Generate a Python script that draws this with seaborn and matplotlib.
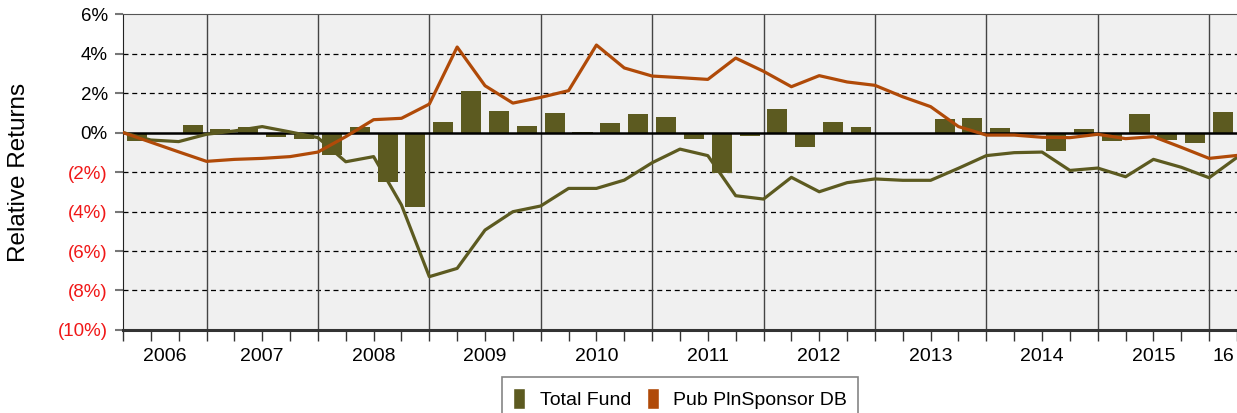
import numpy as np
import pandas as pd
import matplotlib
matplotlib.use("Agg")
import matplotlib.pyplot as plt
import seaborn as sns
from matplotlib.patches import Patch

# Dados (retornos relativos trimestrais, 2006T2 - 2016T1)
quarters = [f"{y}Q{q}" for y in range(2006, 2017) for q in range(1, 5)][1:41]
total_fund_qtr = [-0.42, -0.08, 0.38, 0.17, 0.26, -0.23, -0.31, -1.16, 0.28, -2.49,
                  -3.76, 0.52, 2.12, 1.09, 0.35, 0.99, 0.03, 0.46, 0.94, 0.78,
                  -0.31, -2.03, -0.16, 1.17, -0.72, 0.52, 0.28, -0.06, -0.03, 0.68,
                  0.72, 0.22, -0.02, -0.92, 0.16, -0.41, 0.94, -0.36, -0.52, 1.04]
total_fund_cum = [0, -0.38, -0.46, -0.09, 0.08, 0.30, 0.03, -0.26, -1.48, -1.22,
                  -3.67, -7.30, -6.88, -4.94, -4.01, -3.72, -2.83, -2.83, -2.41, -1.53,
                  -0.84, -1.17, -3.20, -3.37, -2.27, -3.00, -2.54, -2.35, -2.42, -2.42,
                  -1.81, -1.17, -1.02, -0.99, -1.92, -1.80, -2.24, -1.36, -1.76, -2.29,
                  -1.26]
pub_db_cum = [0, -0.49, -0.98, -1.46, -1.36, -1.31, -1.22, -0.99, -0.21, 0.65,
              0.72, 1.44, 4.33, 2.37, 1.49, 1.78, 2.12, 4.43, 3.27, 2.86,
              2.78, 2.69, 3.77, 3.10, 2.32, 2.88, 2.56, 2.39, 1.81, 1.31,
              0.30, -0.13, -0.13, -0.24, -0.26, -0.09, -0.31, -0.21, -0.75, -1.31,
              -1.16]
year_labels = ["2006", "2007", "2008", "2009", "2010", "2011", "2012", "2013", "2014", "2015", "16"]
year_quarters = [3, 4, 4, 4, 4, 4, 4, 4, 4, 4, 1]
y_ticks = [6, 4, 2, 0, -2, -4, -6, -8, -10]

OLIVE = "#5c5a20"
ORANGE = "#b04a08"

sns.set_style("white")
plt.rcParams["font.family"] = ["Liberation Sans", "DejaVu Sans"]
plt.rcParams["text.color"] = "black"
plt.rcParams["axes.labelcolor"] = "black"
plt.rcParams["xtick.color"] = "black"
plt.rcParams["ytick.color"] = "black"

fig = plt.figure(figsize=(12.37, 4.13), dpi=100)
ax = fig.add_axes([0.0994, 0.201, 0.9006, 0.765])
ax.set_facecolor("#f0f0f0")

bars = pd.DataFrame({"pos": np.arange(len(quarters)) + 0.5, "value": total_fund_qtr})
sns.barplot(data=bars, x="pos", y="value", native_scale=True, width=0.72,
            color=OLIVE, saturation=1, linewidth=0, ax=ax, zorder=3)

k = np.arange(len(total_fund_cum))
sns.lineplot(x=k, y=total_fund_cum, color=OLIVE, lw=2.3, ax=ax, zorder=5)
sns.lineplot(x=k, y=pub_db_cum, color=ORANGE, lw=2.3, ax=ax, zorder=6)

ax.set_xlim(0, 40)
ax.set_ylim(-10, 6)

# grade
for t in y_ticks:
    if t == 0:
        ax.axhline(0, color="black", lw=1.8, zorder=4)
    elif t not in (6, -10):
        ax.axhline(t, color="black", lw=0.9, ls=(0, (4, 3)), zorder=1)
bounds = np.cumsum(year_quarters)
for b in bounds[:-1]:
    ax.axvline(b, color="#444444", lw=1, zorder=2)

# eixo x: marcas por trimestre, rótulos por ano
ax.xaxis.remove_overlapping_locs = False
ax.set_xticks(np.arange(0, 41))
ax.set_xticklabels([])
centers = np.concatenate([[0], bounds[:-1]]) + np.array(year_quarters) / 2
ax.set_xticks(centers, minor=True)
ax.set_xticklabels(year_labels, minor=True)
ax.tick_params(axis="x", which="major", direction="out", length=8, width=1, color="#333333", bottom=True)
ax.tick_params(axis="x", which="minor", length=0, pad=13, labelsize=14, labelcolor="black")

# eixo y
ax.set_yticks(y_ticks)
ax.set_yticklabels([f"{t}%" if t >= 0 else f"({-t}%)" for t in y_ticks])
for lbl, t in zip(ax.get_yticklabels(), y_ticks):
    lbl.set_color("black" if t >= 0 else "#f01818")
ax.tick_params(axis="y", direction="out", length=6, width=1.5, color="#777777", labelsize=13.5, left=True, pad=5)
ax.set_ylabel("Relative Returns", fontsize=17.5, color="black")
ax.yaxis.set_label_coords(-0.0835, 0.5)
ax.set_xlabel("")

for side in ["left", "bottom", "top"]:
    ax.spines[side].set_visible(True)
ax.spines["left"].set_color("#222222")
ax.spines["bottom"].set_color("#333333")
ax.spines["bottom"].set_linewidth(2.2)
ax.spines["top"].set_color("#555555")
ax.spines["right"].set_visible(False)

handles = [Patch(facecolor=OLIVE, label="Total Fund"), Patch(facecolor=ORANGE, label="Pub PlnSponsor DB")]
leg = fig.legend(handles=handles, loc="center", bbox_to_anchor=(0.5497, 0.035), ncol=2,
                 fontsize=14, frameon=True, fancybox=False, handlelength=0.62, handleheight=1.3,
                 handletextpad=0.75, columnspacing=0.8, borderpad=0.55, borderaxespad=0)
leg.get_frame().set_edgecolor("#666666")
leg.get_frame().set_linewidth(1.2)
for txt in leg.get_texts():
    txt.set_color("black")

fig.savefig("out.png", dpi=100)
